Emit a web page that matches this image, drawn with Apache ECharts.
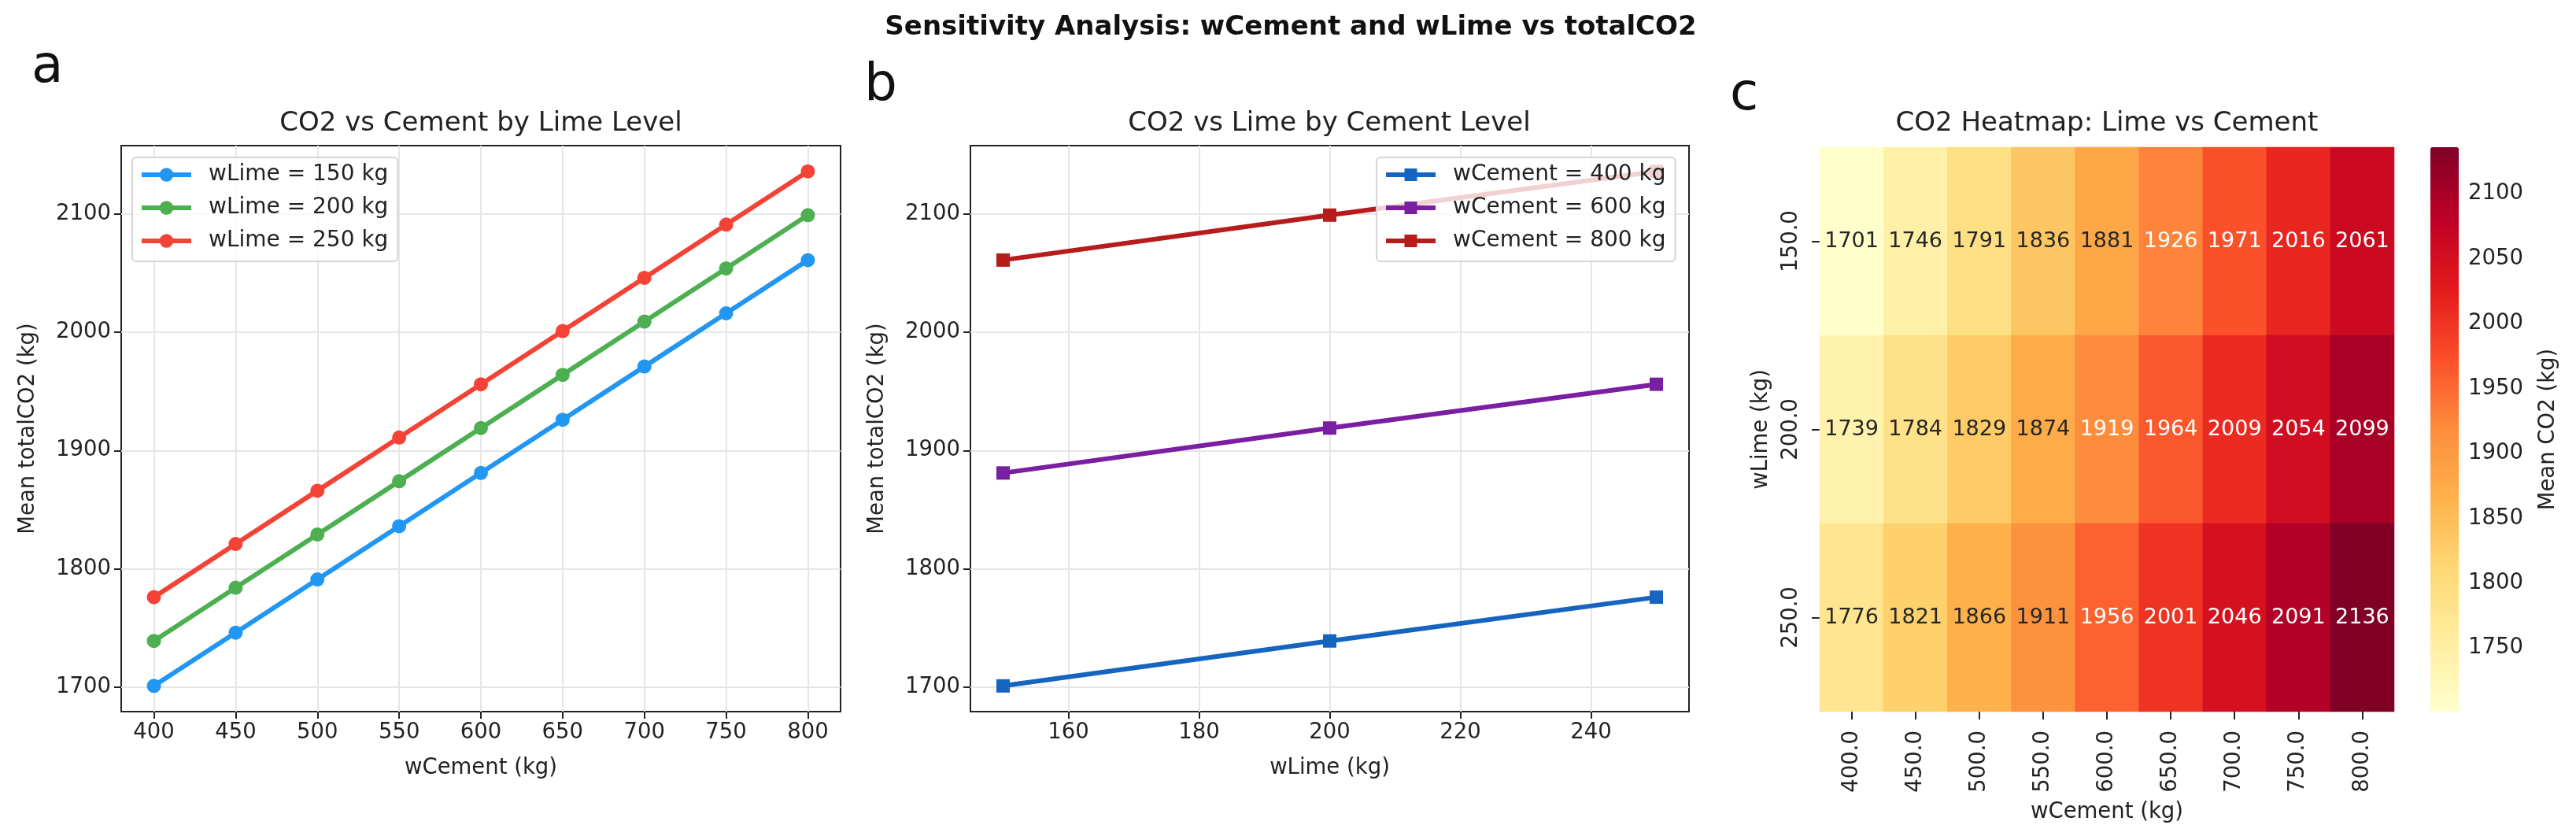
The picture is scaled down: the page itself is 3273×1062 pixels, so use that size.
<!DOCTYPE html>
<html>
<head>
<meta charset="utf-8">
<script src="https://cdn.jsdelivr.net/npm/echarts@6/dist/echarts.min.js"></script>
<style>
  html, body { margin: 0; padding: 0; background: #fff; }
  #chart { width: 3273px; height: 1062px; }
</style>
</head>
<body>
<div id="chart"></div>
<script>
const cementLevels = [400, 450, 500, 550, 600, 650, 700, 750, 800];
const limeLevels = [150, 200, 250];

// mean totalCO2 per cement level, one list per lime level (panel a and heatmap rows)
const co2Lime150 = [1701, 1746, 1791, 1836, 1881, 1926, 1971, 2016, 2061];
const co2Lime200 = [1739, 1784, 1829, 1874, 1919, 1964, 2009, 2054, 2099];
const co2Lime250 = [1776, 1821, 1866, 1911, 1956, 2001, 2046, 2091, 2136];

// mean totalCO2 per lime level, one list per cement level (panel b)
const co2Cement400 = [1701, 1739, 1776];
const co2Cement600 = [1881, 1919, 1956];
const co2Cement800 = [2061, 2099, 2136];

const cementTicks = [400, 450, 500, 550, 600, 650, 700, 750, 800];
const limeTicks = [160, 180, 200, 220, 240];
const co2Ticks = [1700, 1800, 1900, 2000, 2100];
const colorbarTicks = [1750, 1800, 1850, 1900, 1950, 2000, 2050, 2100];

const FONT = "DejaVu Sans";
const INK = "#222222";
const GRIDLINE = "#e6e6e6";
const TICK_SIZE = 27.5;
const ylOrRd = ["#ffffcc", "#ffeda0", "#fed976", "#feb24c", "#fd8d3c",
                "#fc4e2a", "#e31a1c", "#bd0026", "#800026"];

// matplotlib style 5% padding around the data
function padded(values) {
  const lo = Math.min(...values), hi = Math.max(...values);
  const m = (hi - lo) * 0.05;
  return [lo - m, hi + m];
}

const allCo2 = co2Lime150.concat(co2Lime200, co2Lime250);
const co2Range = padded(allCo2);
const cementRange = padded(cementLevels);
const limeRange = padded(limeLevels);

function pairs(xs, ys) {
  return xs.map((x, i) => [x, ys[i]]);
}

const plain = (v) => String(Math.round(v));

function valueAxis(grid, range, ticks, name, gap, rotate) {
  return {
    type: "value",
    gridIndex: grid,
    min: range[0],
    max: range[1],
    name: name,
    nameLocation: "middle",
    nameGap: gap,
    nameRotate: rotate,
    nameTextStyle: { fontFamily: FONT, fontSize: TICK_SIZE, color: INK },
    axisLine: { show: false },
    axisTick: { show: true, length: 9, customValues: ticks, lineStyle: { color: INK, width: 2 } },
    axisLabel: { customValues: ticks, margin: 13, fontFamily: FONT, fontSize: TICK_SIZE, color: INK, formatter: plain },
    splitLine: { show: true, lineStyle: { color: GRIDLINE, width: 2 } },
  };
}

function lineSeries(name, grid, data, color, symbol, size) {
  return {
    type: "line",
    name: name,
    xAxisIndex: grid,
    yAxisIndex: grid,
    data: data,
    color: color,
    symbol: symbol,
    symbolSize: size,
    showAllSymbol: true,
    lineStyle: { color: color, width: 6 },
    itemStyle: { color: color },
    emphasis: { disabled: true },
    animation: false,
    z: 3,
  };
}

function legendBox(left, names, iconH) {
  return {
    orient: "vertical",
    left: left,
    top: 200,
    data: names,
    itemWidth: 63,
    itemHeight: iconH,
    itemGap: 14,
    padding: [8, 12, 12, 9],
    backgroundColor: "rgba(255,255,255,0.8)",
    borderColor: "#d5d5d5",
    borderWidth: 2,
    borderRadius: 5,
    selectedMode: false,
    lineStyle: { width: 6 },
    textStyle: { fontFamily: FONT, fontSize: 28, color: INK, padding: [0, 0, 0, 17] },
  };
}

const heatRows = [co2Lime150, co2Lime200, co2Lime250];
const heatData = [];
heatRows.forEach(function (row, yi) {
  row.forEach(function (v, xi) {
    heatData.push({ value: [xi, yi, v], label: { color: v > 1915 ? "#ffffff" : "#262626" } });
  });
});

const chart = echarts.init(document.getElementById("chart"), null, { renderer: "canvas" });

const titleStyle = { fontFamily: FONT, fontSize: 34, fontWeight: "normal", color: INK };
const panelStyle = { fontFamily: FONT, fontSize: 66, fontWeight: "normal", color: "#111" };

const option = {
  backgroundColor: "#ffffff",
  animation: false,
  title: [
    { text: "Sensitivity Analysis: wCement and wLime vs totalCO2", left: 1640, top: 18, textAlign: "center", padding: 0,
      textStyle: { fontFamily: FONT, fontSize: 34, fontWeight: "bold", color: "#111" } },
    { text: "a", left: 40, top: 54, padding: 0, textStyle: panelStyle },
    { text: "b", left: 1098, top: 77, padding: 0, textStyle: panelStyle },
    { text: "c", left: 2198, top: 89, padding: 0, textStyle: panelStyle },
    { text: "CO2 vs Cement by Lime Level", left: 611, top: 140, textAlign: "center", padding: 0, textStyle: titleStyle },
    { text: "CO2 vs Lime by Cement Level", left: 1689, top: 140, textAlign: "center", padding: 0, textStyle: titleStyle },
    { text: "CO2 Heatmap: Lime vs Cement", left: 2677, top: 140, textAlign: "center", padding: 0, textStyle: titleStyle },
  ],
  legend: [
    legendBox(168, ["wLime = 150 kg", "wLime = 200 kg", "wLime = 250 kg"], 22),
    legendBox(1749, ["wCement = 400 kg", "wCement = 600 kg", "wCement = 800 kg"], 20),
  ],
  grid: [
    { left: 154, top: 185, width: 914, height: 719, show: true, borderColor: INK, borderWidth: 2, backgroundColor: "transparent" },
    { left: 1233, top: 185, width: 913, height: 719, show: true, borderColor: INK, borderWidth: 2, backgroundColor: "transparent" },
    { left: 2312, top: 187, width: 730, height: 717 },
    { left: 3088, top: 187, width: 36, height: 717 },
  ],
  xAxis: [
    valueAxis(0, cementRange, cementTicks, "wCement (kg)", 58, 0),
    valueAxis(1, limeRange, limeTicks, "wLime (kg)", 58, 0),
    {
      type: "category",
      gridIndex: 2,
      data: cementLevels.map((v) => v.toFixed(1)),
      name: "wCement (kg)",
      nameLocation: "middle",
      nameGap: 114,
      nameTextStyle: { fontFamily: FONT, fontSize: TICK_SIZE, color: INK },
      axisLine: { show: false },
      axisTick: { show: true, alignWithLabel: true, length: 10, lineStyle: { color: INK, width: 2 } },
      axisLabel: { rotate: 90, margin: 24, fontFamily: FONT, fontSize: TICK_SIZE, color: INK, interval: 0 },
      splitLine: { show: false },
    },
    { type: "value", gridIndex: 3, show: false, min: 0, max: 1 },
  ],
  yAxis: [
    valueAxis(0, co2Range, co2Ticks, "Mean totalCO2 (kg)", 104, 90),
    valueAxis(1, co2Range, co2Ticks, "Mean totalCO2 (kg)", 104, 90),
    {
      type: "category",
      gridIndex: 2,
      inverse: true,
      data: limeLevels.map((v) => v.toFixed(1)),
      name: "wLime (kg)",
      nameLocation: "middle",
      nameGap: 60,
      nameRotate: 90,
      nameTextStyle: { fontFamily: FONT, fontSize: TICK_SIZE, color: INK },
      axisLine: { show: false },
      axisTick: { show: true, alignWithLabel: true, length: 10, lineStyle: { color: INK, width: 2 } },
      axisLabel: { rotate: 90, margin: 22, fontFamily: FONT, fontSize: TICK_SIZE, color: INK },
      splitLine: { show: false },
    },
    {
      type: "value",
      gridIndex: 3,
      position: "right",
      min: Math.min(...allCo2),
      max: Math.max(...allCo2),
      name: "Mean CO2 (kg)",
      nameLocation: "middle",
      nameGap: 100,
      nameRotate: 90,
      nameTextStyle: { fontFamily: FONT, fontSize: TICK_SIZE, color: INK },
      axisLine: { show: false },
      axisTick: { show: true, length: 10, customValues: colorbarTicks, lineStyle: { color: INK, width: 2 } },
      axisLabel: { customValues: colorbarTicks, margin: 12, fontFamily: FONT, fontSize: TICK_SIZE, color: INK, formatter: plain },
      splitLine: { show: false },
    },
  ],
  visualMap: {
    type: "continuous",
    seriesIndex: 6,
    min: Math.min(...allCo2),
    max: Math.max(...allCo2),
    orient: "vertical",
    left: 3088,
    top: 187,
    itemWidth: 36,
    itemHeight: 717,
    padding: 0,
    calculable: false,
    hoverLink: false,
    inRange: { color: ylOrRd },
  },
  series: [
    lineSeries("wLime = 150 kg", 0, pairs(cementLevels, co2Lime150), "#2196f3", "circle", 18),
    lineSeries("wLime = 200 kg", 0, pairs(cementLevels, co2Lime200), "#4caf50", "circle", 18),
    lineSeries("wLime = 250 kg", 0, pairs(cementLevels, co2Lime250), "#f44336", "circle", 18),
    lineSeries("wCement = 400 kg", 1, pairs(limeLevels, co2Cement400), "#1565c0", "rect", 17),
    lineSeries("wCement = 600 kg", 1, pairs(limeLevels, co2Cement600), "#7b1fa2", "rect", 17),
    lineSeries("wCement = 800 kg", 1, pairs(limeLevels, co2Cement800), "#b71c1c", "rect", 17),
    {
      type: "heatmap",
      xAxisIndex: 2,
      yAxisIndex: 2,
      data: heatData,
      label: { show: true, fontFamily: FONT, fontSize: 27, formatter: (p) => String(p.value[2]) },
      emphasis: { disabled: true },
    },
  ],
};

chart.setOption(option);
</script>
</body>
</html>
